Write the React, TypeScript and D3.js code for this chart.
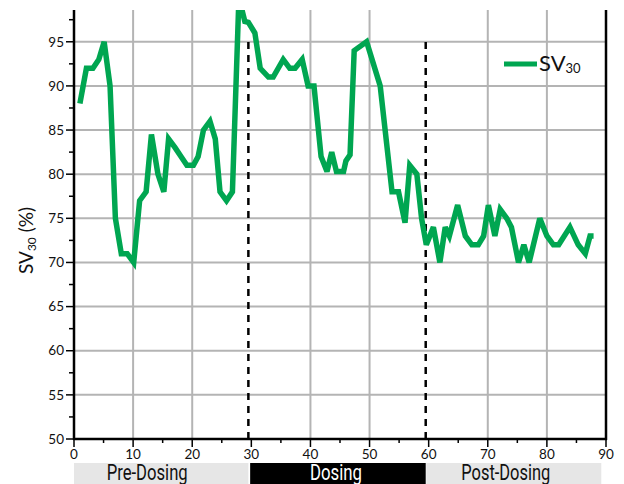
import * as d3 from 'd3';

// SV30 readings
const days = [
  1.0, 2.1, 3.2, 4.2, 5.1, 6.1, 7.0, 8.0, 9.0, 10.1, 11.1, 12.2, 13.1, 14.2, 15.2, 16.0,
  17.1, 18.1, 19.1, 20.2, 21.0, 21.9, 23.0, 23.9, 24.7, 25.8, 26.8, 27.9, 28.9, 29.5,
  30.6, 31.5, 32.9, 33.7, 35.4, 36.5, 37.4, 38.6, 39.6, 40.6, 41.8, 42.8, 43.6, 44.4,
  45.6, 46.0, 46.7, 47.4, 49.5, 51.8, 53.8, 54.9, 56.0, 56.8, 58.0, 58.8, 59.6, 60.8,
  61.9, 62.8, 63.5, 64.9, 66.2, 67.3, 68.4, 69.3, 70.1, 71.2, 72.1, 73.2, 74.0, 75.2,
  76.1, 77.0, 78.8, 80.0, 81.1, 82.0, 83.9, 85.3, 86.5, 87.3, 87.9,
];
const sv30 = [
  88, 92, 92, 93, 95, 90, 75, 71, 71, 70, 77, 78, 84.5, 80, 78, 84,
  83, 82, 81, 81, 82, 85, 86, 84, 78, 77, 78, 100, 97.3, 97.2,
  96, 92, 91, 91, 93, 92, 92, 93, 90, 90, 82, 80.3, 82.5, 80.3,
  80.3, 81.5, 82.2, 94, 95, 90, 78, 78, 74.5, 81, 80, 75, 72, 74,
  70, 74, 73, 76.5, 73, 72, 72, 73, 76.5, 73, 76, 75, 74, 70,
  72, 70, 75, 73, 72, 72, 74, 72, 71, 73, 73,
];

const yTicks = [50, 55, 60, 65, 70, 75, 80, 85, 90, 95];
const xTicks = [0, 10, 20, 30, 40, 50, 60, 70, 80, 90];
const xGrid = [10, 20, 40, 50, 70, 80];
const phaseBreaks = [29.5, 59.5];

const phaseNames = ['Pre-Dosing', 'Dosing', 'Post-Dosing'];
const phaseStart = [0, 29.8, 59.6];
const phaseEnd = [29.5, 59.5, 89.2];
const phaseDark = [false, true, false];

const W = 624;
const H = 484;
const margin = { top: 10, right: 18, bottom: 45, left: 74 };
const green = '#00a651';
const gridColor = '#b4b4b4';
const tickFont = 'Lato, "Open Sans", sans-serif';
const narrowFont = 'Roboto, "Noto Sans", sans-serif';

// label placement tweaks for the phase band text
const labelShift = [-14, -2, -8];
const labelWidth = [81, 52, 89];

export default function App() {
  const x = d3.scaleLinear().domain([0, 90]).range([margin.left, W - margin.right]);
  const y = d3.scaleLinear().domain([50, 98.6]).range([H - margin.bottom, margin.top]);

  const pts = days.map((d, i) => [d, sv30[i]] as [number, number]);
  const line = d3.line<[number, number]>()
    .x((d) => x(d[0]))
    .y((d) => y(d[1]));

  const minorX = d3.range(5, 90, 10);
  const minorY = d3.range(52.5, 98, 5);
  const [y0, y1] = y.range();
  const [x0, x1] = x.range();

  return (
    <svg width={W} height={H} style={{ position: 'absolute', left: 0, top: 0, display: 'block' }}>
      <defs>
        <clipPath id="plot-clip">
          <rect x={x0} y={y1} width={x1 - x0} height={y0 - y1} />
        </clipPath>
      </defs>

      {/* grid */}
      {yTicks.filter((t) => t > 50).map((t) => (
        <line key={'gy' + t} x1={x0} x2={x1} y1={y(t)} y2={y(t)} stroke={gridColor} strokeWidth={2} />
      ))}
      {xGrid.map((t) => (
        <line key={'gx' + t} x1={x(t)} x2={x(t)} y1={y0} y2={y1} stroke={gridColor} strokeWidth={2} />
      ))}

      {/* phase breaks */}
      {phaseBreaks.map((b) => (
        <line key={'pb' + b} x1={x(b)} x2={x(b)} y1={y0} y2={y1 + 28}
          stroke="#000" strokeWidth={2.5} strokeDasharray="7,6" />
      ))}

      {/* data */}
      <path d={line(pts) || ''} fill="none" stroke={green} strokeWidth={5.5}
        strokeLinejoin="miter" strokeMiterlimit={3} clipPath="url(#plot-clip)" />

      {/* axes */}
      <line x1={x0} x2={x0} y1={y1} y2={y0 + 1} stroke="#000" strokeWidth={2.5} />
      <line x1={x1} x2={x1} y1={y1} y2={y0 + 1} stroke="#000" strokeWidth={2.5} />
      <line x1={x0 - 1} x2={x1 + 1} y1={y0} y2={y0} stroke="#000" strokeWidth={2.5} />

      {yTicks.map((t) => (
        <g key={'yt' + t}>
          <line x1={x0 - 8} x2={x0} y1={y(t)} y2={y(t)} stroke="#000" strokeWidth={1.5} />
          <text x={x0 - 10} y={y(t)} dy="0.35em" textAnchor="end" fontSize={13.5}
            fontFamily={tickFont} fill="#111">{t}</text>
        </g>
      ))}
      {minorY.map((t) => (
        <line key={'my' + t} x1={x0 - 5} x2={x0} y1={y(t)} y2={y(t)} stroke="#000" strokeWidth={1.5} />
      ))}

      {xTicks.map((t) => (
        <g key={'xt' + t}>
          <line x1={x(t)} x2={x(t)} y1={y0} y2={y0 + 8} stroke="#000" strokeWidth={1.5} />
          <text x={x(t)} y={y0 + 20} textAnchor="middle" fontSize={13.5}
            fontFamily={tickFont} fill="#111">{t}</text>
        </g>
      ))}
      {minorX.map((t) => (
        <line key={'mx' + t} x1={x(t)} x2={x(t)} y1={y0} y2={y0 + 4} stroke="#000" strokeWidth={1.5} />
      ))}

      {/* y label */}
      <text transform={`translate(33, ${(y0 + y1) / 2 + 16}) rotate(-90)`} textAnchor="middle"
        fontSize={19} fontFamily={tickFont} fill="#111">
        SV<tspan fontSize={12} dy={3}>30</tspan><tspan dy={-3}> (%)</tspan>
      </text>

      {/* legend */}
      <line x1={504} x2={537} y1={64} y2={64} stroke={green} strokeWidth={5} />
      <text x={539} y={71} fontSize={22} fontFamily={tickFont} fill="#111">
        SV<tspan fontSize={13} dy={2}>30</tspan>
      </text>

      {/* phase bands */}
      {phaseNames.map((name, i) => {
        const a = x(phaseStart[i]);
        const b = x(phaseEnd[i]);
        return (
          <g key={name}>
            <rect x={a} y={y0 + 24} width={b - a} height={H - y0 - 24}
              fill={phaseDark[i] ? '#000' : '#e6e6e6'} />
            <text x={(a + b) / 2 + labelShift[i]} y={H - 4} textAnchor="middle" fontSize={22}
              textLength={labelWidth[i]} lengthAdjust="spacingAndGlyphs"
              fontFamily={narrowFont} fill={phaseDark[i] ? '#fff' : '#111'}>{name}</text>
          </g>
        );
      })}
    </svg>
  );
}
